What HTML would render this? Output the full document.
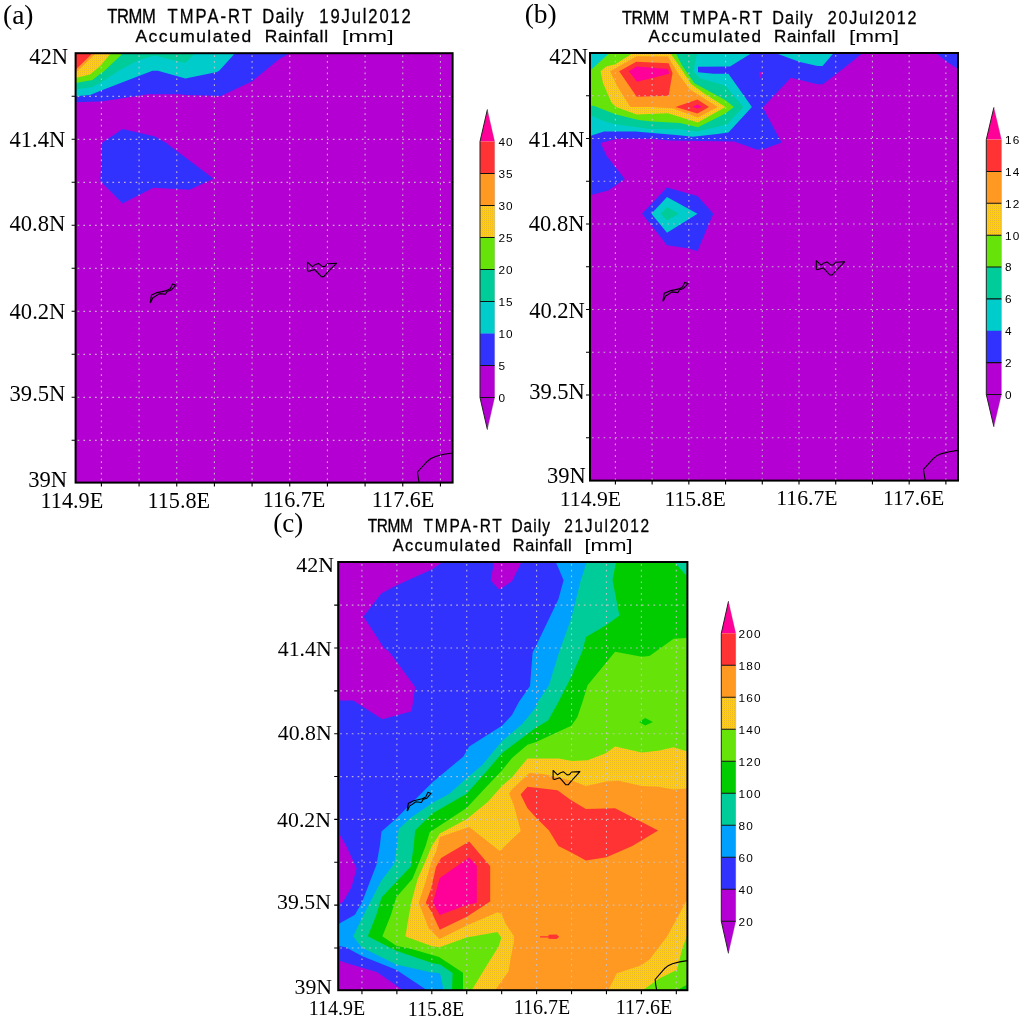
<!DOCTYPE html>
<html lang="en"><head><meta charset="utf-8"><title>TRMM TMPA-RT Daily Accumulated Rainfall</title>
<style>
html,body{margin:0;padding:0;background:#fff;}
body{width:1024px;height:1021px;overflow:hidden;font-family:"Liberation Sans",sans-serif;}
svg{display:block;}
text{fill:#000;}
</style></head><body>
<svg width="1024" height="1021" viewBox="0 0 1024 1021">
<defs><pattern id="dith" width="2" height="2" patternUnits="userSpaceOnUse"><rect width="2" height="2" fill="#FECD0C"/><rect width="1" height="1" fill="#ECB830"/></pattern></defs>
<rect width="1024" height="1021" fill="#fff"/>
<g id="panel-a">
<clipPath id="clip-a"><rect x="75.6" y="53.2" width="377.0" height="429.4"/></clipPath>
<g clip-path="url(#clip-a)">
<rect x="75.6" y="53.2" width="377.0" height="429.4" fill="#B400D2"/>
<polygon points="75.6,53.3 290.3,53.3 279.4,59.0 252.3,81.2 221.0,96.0 185.6,95.0 179.4,94.2 148.4,94.3 101.2,101.4 75.6,102.3" fill="#3232FF"/>
<polygon points="75.6,53.3 235.0,53.3 219.4,70.4 217.0,72.0 185.4,78.6 157.9,70.8 152.5,70.7 101.2,90.6 90.0,95.0 75.6,96.2" fill="#00CCCC"/>
<polygon points="75.6,53.3 195.0,53.3 185.4,63.0 154.5,55.4 138.8,60.0 122.7,68.4 120.0,70.0 101.2,82.3 92.5,86.9 75.6,89.4" fill="#00CC99"/>
<polygon points="75.6,53.3 123.0,53.3 103.2,72.0 101.2,73.0 92.5,80.0 75.6,83.1" fill="#66E40A"/>
<polygon points="75.6,53.3 110.8,53.3 100.0,66.3 90.0,74.4 75.6,78.0" fill="url(#dith)"/>
<polygon points="75.6,53.3 96.0,53.3 75.6,72.7" fill="#FF9922"/>
<polygon points="75.6,53.3 92.5,53.3 75.6,69.7" fill="#FF3333"/>
<polygon points="102.2,142.8 122.5,129.1 155.0,136.6 165.9,142.8 213.6,178.8 189.4,189.7 153.4,187.7 122.5,203.4 100.3,181.1" fill="#3232FF"/>
<path d="M150.2,302.6 L151.5,295.0 L157.1,292.6 L162.0,291.6 L166.4,290.6 L170.3,288.7 L172.5,284.0 L175.9,285.2 L171.2,290.1 L167.3,291.4 L165.4,294.3 L159.5,293.6 L156.6,295.5 L152.7,298.0 L151.0,301.9 Z" fill="none" stroke="#000" stroke-width="1.1" stroke-linejoin="round"/>
<path d="M307.5,262.2 L312.4,266.6 L315.5,264.4 L318.5,263.4 L322.6,266.6 L324.8,266.5 L327.7,263.7 L336.5,263.3 L327.2,272.7 L323.8,276.6 L321.4,276.6 L317.5,272.5 L314.6,269.5 L309.2,271.2 L307.5,270.7 Z" fill="none" stroke="#000" stroke-width="1.1" stroke-linejoin="round"/>
<path d="M419.2,483.0 L418.2,477.0 L417.5,472.0 L427.5,461.2 L431.0,458.5 L436.2,456.2 L444.0,454.3 L452.5,453.0" fill="none" stroke="#000" stroke-width="1.1" stroke-linejoin="round"/>
<path d="M101.40,55.2V482.6M139.07,55.2V482.6M176.74,55.2V482.6M214.41,55.2V482.6M252.08,55.2V482.6M289.75,55.2V482.6M327.42,55.2V482.6M365.09,55.2V482.6M402.76,55.2V482.6M440.43,55.2V482.6M77.6,96.30H452.6M77.6,139.30H452.6M77.6,182.30H452.6M77.6,225.30H452.6M77.6,268.30H452.6M77.6,311.30H452.6M77.6,354.30H452.6M77.6,397.30H452.6M77.6,440.30H452.6" fill="none" stroke="#c9c3c9" stroke-opacity=".88" stroke-width="1.15" stroke-dasharray="1.7 4.1"/>
</g>
<path d="M101.40,482.6v4M139.07,482.6v4M176.74,482.6v4M214.41,482.6v4M252.08,482.6v4M289.75,482.6v4M327.42,482.6v4M365.09,482.6v4M402.76,482.6v4M440.43,482.6v4M75.6,96.30h-4M75.6,139.30h-4M75.6,182.30h-4M75.6,225.30h-4M75.6,268.30h-4M75.6,311.30h-4M75.6,354.30h-4M75.6,397.30h-4M75.6,440.30h-4" stroke="#000" stroke-width="1.1" fill="none"/>
<rect x="75.6" y="53.2" width="377.0" height="429.4" fill="none" stroke="#000" stroke-width="2"/>
<text x="68.2" y="63.9" text-anchor="end" font-size="22.6" font-family="'Liberation Serif', 'DejaVu Serif', serif">42N</text>
<text x="65.3" y="147.2" text-anchor="end" font-size="22.6" font-family="'Liberation Serif', 'DejaVu Serif', serif">41.4N</text>
<text x="65.3" y="230.8" text-anchor="end" font-size="22.6" font-family="'Liberation Serif', 'DejaVu Serif', serif">40.8N</text>
<text x="65.4" y="319.4" text-anchor="end" font-size="22.6" font-family="'Liberation Serif', 'DejaVu Serif', serif">40.2N</text>
<text x="65.4" y="400.7" text-anchor="end" font-size="22.6" font-family="'Liberation Serif', 'DejaVu Serif', serif">39.5N</text>
<text x="67.2" y="487.2" text-anchor="end" font-size="22.6" font-family="'Liberation Serif', 'DejaVu Serif', serif">39N</text>
<text x="71.9" y="508" text-anchor="middle" font-size="22.2" font-family="'Liberation Serif', 'DejaVu Serif', serif">114.9E</text>
<text x="178.8" y="508" text-anchor="middle" font-size="22.2" font-family="'Liberation Serif', 'DejaVu Serif', serif">115.8E</text>
<text x="294.1" y="507.3" text-anchor="middle" font-size="22.2" font-family="'Liberation Serif', 'DejaVu Serif', serif">116.7E</text>
<text x="403.1" y="507.3" text-anchor="middle" font-size="22.2" font-family="'Liberation Serif', 'DejaVu Serif', serif">117.6E</text>
<text x="3" y="24.2" font-size="27.5" font-family="'Liberation Serif', 'DejaVu Serif', serif">(a)</text>
<text transform="scale(0.86,1)" y="23.4" font-size="19.3" stroke="#000" stroke-width=".3" font-family="'Liberation Sans', 'DejaVu Sans', sans-serif"><tspan x="124.8" textLength="56.4" lengthAdjust="spacing">TRMM</tspan> <tspan x="194.8" textLength="98.1" lengthAdjust="spacing">TMPA-RT</tspan> <tspan x="305.0" textLength="48.1" lengthAdjust="spacing">Daily</tspan> <tspan x="371.3" textLength="106.4" lengthAdjust="spacing">19Jul2012</tspan></text>
<text transform="scale(1.0,1)" y="42.0" font-size="17.4" stroke="#000" stroke-width=".3" font-family="'Liberation Sans', 'DejaVu Sans', sans-serif"><tspan x="135.4" textLength="115.7" lengthAdjust="spacing">Accumulated</tspan> <tspan x="264.7" textLength="63.3" lengthAdjust="spacing">Rainfall</tspan> <tspan x="342.0" textLength="51.6" lengthAdjust="spacingAndGlyphs" stroke="none">[mm]</tspan></text>
<polygon points="480,141.5 487.4,109.5 494.7,141.5" fill="#FF0099"/>
<rect x="480" y="141.50" width="14.7" height="32.30" fill="#FF3333"/>
<rect x="480" y="173.50" width="14.7" height="32.30" fill="#FF9922"/>
<rect x="480" y="205.50" width="14.7" height="32.30" fill="url(#dith)"/>
<rect x="480" y="237.50" width="14.7" height="32.30" fill="#66E40A"/>
<rect x="480" y="269.50" width="14.7" height="32.30" fill="#00CC99"/>
<rect x="480" y="301.50" width="14.7" height="32.30" fill="#00CCCC"/>
<rect x="480" y="333.50" width="14.7" height="32.30" fill="#3232FF"/>
<rect x="480" y="365.50" width="14.7" height="32.30" fill="#B400D2"/>
<polygon points="480,397.5 487.4,429.5 494.7,397.5" fill="#B400D2"/>
<path d="M480,173.50H494.7M480,205.50H494.7M480,237.50H494.7M480,269.50H494.7M480,301.50H494.7M480,365.50H494.7M480,397.50H494.7" stroke="#111" stroke-width="1.1" fill="none"/>
<path d="M487.4,109.5L480,141.5V397.5L487.4,429.5" stroke="#222" stroke-width="1" fill="none"/>
<path d="M487.4,109.5L494.7,141.5V397.5L487.4,429.5" stroke="#888" stroke-opacity=".35" stroke-width=".8" fill="none"/>
<text x="498.4" y="145.8" font-size="11.8" letter-spacing="1.1" font-family="'Liberation Sans', 'DejaVu Sans', sans-serif">40</text>
<text x="498.4" y="177.8" font-size="11.8" letter-spacing="1.1" font-family="'Liberation Sans', 'DejaVu Sans', sans-serif">35</text>
<text x="498.4" y="209.8" font-size="11.8" letter-spacing="1.1" font-family="'Liberation Sans', 'DejaVu Sans', sans-serif">30</text>
<text x="498.4" y="241.8" font-size="11.8" letter-spacing="1.1" font-family="'Liberation Sans', 'DejaVu Sans', sans-serif">25</text>
<text x="498.4" y="273.8" font-size="11.8" letter-spacing="1.1" font-family="'Liberation Sans', 'DejaVu Sans', sans-serif">20</text>
<text x="498.4" y="305.8" font-size="11.8" letter-spacing="1.1" font-family="'Liberation Sans', 'DejaVu Sans', sans-serif">15</text>
<text x="498.4" y="337.8" font-size="11.8" letter-spacing="1.1" font-family="'Liberation Sans', 'DejaVu Sans', sans-serif">10</text>
<text x="498.4" y="369.8" font-size="11.8" letter-spacing="1.1" font-family="'Liberation Sans', 'DejaVu Sans', sans-serif">5</text>
<text x="498.4" y="401.8" font-size="11.8" letter-spacing="1.1" font-family="'Liberation Sans', 'DejaVu Sans', sans-serif">0</text>
</g>
<g id="panel-b">
<clipPath id="clip-b"><rect x="590" y="53" width="368.0" height="427.6"/></clipPath>
<g clip-path="url(#clip-b)">
<rect x="590" y="53" width="368.0" height="427.6" fill="#B400D2"/>
<polygon points="590.0,53.0 862.5,53.0 851.6,62.0 836.7,73.8 823.0,84.2 817.5,84.2 790.9,77.7 762.8,107.4 781.6,142.5 762.8,149.6 756.6,149.6 734.0,141.6 669.4,140.6 650.6,138.8 616.2,139.0 600.6,143.0 606.9,156.2 624.8,178.9 608.4,190.6 590.0,195.3" fill="#3232FF"/>
<polygon points="935.9,53.0 946.1,61.3 958.0,69.1 958.0,53.0" fill="#3232FF"/>
<polygon points="758.9,71.8 763.6,72.2 759.7,78.9" fill="#B400D2"/>
<polygon points="590.0,53.0 751.9,53.0 730.0,66.4 698.0,66.8 698.0,72.2 713.6,73.8 728.4,73.8 751.9,107.1 728.4,132.4 717.5,133.9 692.8,136.7 678.8,135.2 635.5,131.4 604.0,131.4 590.0,136.0" fill="#00CCCC"/>
<polygon points="775.3,53.0 800.0,62.0 817.5,66.0 822.5,66.0 833.7,53.0" fill="#00CCCC"/>
<polygon points="590.0,53.0 697.2,53.0 693.3,71.4 700.3,78.5 725.3,85.5 743.3,107.1 726.9,124.6 697.2,131.6 680.0,129.2 650.0,128.9 615.1,124.2 604.8,121.4 590.0,114.9" fill="#00CC99"/>
<polygon points="590.0,53.0 675.6,53.0 681.9,65.2 694.4,83.2 725.6,100.3 733.9,107.1 725.3,113.6 698.0,127.2 680.0,123.0 652.2,121.4 638.6,120.0 615.3,114.3 594.4,106.0 590.0,105.5" fill="#66E40A"/>
<polygon points="590.0,53.0 609.5,53.0 590.0,70.7" fill="#00CCCC"/>
<polygon points="600.6,71.3 606.1,66.6 615.3,64.2 633.0,53.0 670.2,53.0 678.8,65.2 691.2,83.9 703.8,93.3 725.5,107.1 697.7,122.5 667.8,113.3 636.7,114.6 616.0,107.0 611.4,102.6 603.0,83.0" fill="url(#dith)"/>
<polygon points="610.2,71.3 636.7,56.3 667.8,56.6 678.8,74.6 689.6,89.2 717.7,107.1 697.7,117.5 672.5,108.2 650.0,106.9 630.3,106.9 617.0,85.7" fill="#FF9922"/>
<polygon points="619.2,71.3 636.3,61.7 668.6,63.2 672.5,73.0 668.6,95.7 636.7,96.7" fill="#FF3333"/>
<polygon points="675.6,106.9 697.4,99.4 709.0,107.1 697.4,113.4" fill="#FF3333"/>
<polygon points="628.8,71.3 636.7,66.5 667.8,69.1 669.4,73.8 637.0,81.8" fill="#FF0099"/>
<polygon points="692.6,106.8 697.5,104.6 701.6,106.8 697.5,108.8" fill="#FF0099"/>
<polygon points="642.0,213.8 667.0,187.5 697.5,196.1 713.4,213.8 708.4,225.0 697.5,251.2 688.9,248.4 667.0,245.3 652.2,226.6" fill="#3232FF"/>
<polygon points="651.4,213.8 667.0,196.9 697.5,213.8 667.0,232.8" fill="#00CCCC"/>
<polygon points="660.8,213.8 667.0,207.0 678.8,213.8 667.0,220.6" fill="#00CC99"/>
<path d="M663.0,300.9 L664.2,293.3 L669.7,290.9 L674.5,289.9 L678.8,288.9 L682.6,287.0 L684.7,282.4 L688.0,283.6 L683.5,288.4 L679.6,289.7 L677.8,292.6 L672.0,291.9 L669.2,293.8 L665.4,296.3 L663.7,300.2 Z" fill="none" stroke="#000" stroke-width="1.1" stroke-linejoin="round"/>
<path d="M816.3,260.7 L821.1,265.1 L824.1,262.9 L827.0,261.9 L831.0,265.1 L833.2,265.0 L836.0,262.2 L844.6,261.8 L835.6,271.1 L832.2,275.0 L829.9,275.0 L826.1,270.9 L823.2,267.9 L818.0,269.6 L816.3,269.2 Z" fill="none" stroke="#000" stroke-width="1.1" stroke-linejoin="round"/>
<path d="M925.2,480.2 L924.2,474.2 L923.5,469.3 L933.3,458.6 L936.7,455.8 L941.8,453.6 L949.4,451.7 L957.6,450.4" fill="none" stroke="#000" stroke-width="1.1" stroke-linejoin="round"/>
<path d="M615.40,55.0V480.6M652.12,55.0V480.6M688.84,55.0V480.6M725.56,55.0V480.6M762.28,55.0V480.6M799.00,55.0V480.6M835.72,55.0V480.6M872.44,55.0V480.6M909.16,55.0V480.6M945.88,55.0V480.6M592.0,95.75H958.0M592.0,138.50H958.0M592.0,181.25H958.0M592.0,224.00H958.0M592.0,266.75H958.0M592.0,309.50H958.0M592.0,352.25H958.0M592.0,395.00H958.0M592.0,437.75H958.0" fill="none" stroke="#c9c3c9" stroke-opacity=".88" stroke-width="1.15" stroke-dasharray="1.7 4.1"/>
</g>
<path d="M615.40,480.6v4M652.12,480.6v4M688.84,480.6v4M725.56,480.6v4M762.28,480.6v4M799.00,480.6v4M835.72,480.6v4M872.44,480.6v4M909.16,480.6v4M945.88,480.6v4M590.0,95.75h-4M590.0,138.50h-4M590.0,181.25h-4M590.0,224.00h-4M590.0,266.75h-4M590.0,309.50h-4M590.0,352.25h-4M590.0,395.00h-4M590.0,437.75h-4" stroke="#000" stroke-width="1.1" fill="none"/>
<rect x="590" y="53" width="368.0" height="427.6" fill="none" stroke="#000" stroke-width="2"/>
<text x="588.0" y="63.7" text-anchor="end" font-size="22.5" font-family="'Liberation Serif', 'DejaVu Serif', serif">42N</text>
<text x="584.4" y="146.9" text-anchor="end" font-size="22.5" font-family="'Liberation Serif', 'DejaVu Serif', serif">41.4N</text>
<text x="584.4" y="230.6" text-anchor="end" font-size="22.5" font-family="'Liberation Serif', 'DejaVu Serif', serif">40.8N</text>
<text x="584.8" y="317.6" text-anchor="end" font-size="22.5" font-family="'Liberation Serif', 'DejaVu Serif', serif">40.2N</text>
<text x="584.8" y="399.1" text-anchor="end" font-size="22.5" font-family="'Liberation Serif', 'DejaVu Serif', serif">39.5N</text>
<text x="585.7" y="483.2" text-anchor="end" font-size="22.5" font-family="'Liberation Serif', 'DejaVu Serif', serif">39N</text>
<text x="590.4" y="505.5" text-anchor="middle" font-size="21.7" font-family="'Liberation Serif', 'DejaVu Serif', serif">114.9E</text>
<text x="695.1" y="505.5" text-anchor="middle" font-size="21.7" font-family="'Liberation Serif', 'DejaVu Serif', serif">115.8E</text>
<text x="806.9" y="505" text-anchor="middle" font-size="21.7" font-family="'Liberation Serif', 'DejaVu Serif', serif">116.7E</text>
<text x="913.6" y="505" text-anchor="middle" font-size="21.7" font-family="'Liberation Serif', 'DejaVu Serif', serif">117.6E</text>
<text x="524.7" y="22.5" font-size="27.5" font-family="'Liberation Serif', 'DejaVu Serif', serif">(b)</text>
<text transform="scale(0.86,1)" y="23.9" font-size="18.8" stroke="#000" stroke-width=".3" font-family="'Liberation Sans', 'DejaVu Sans', sans-serif"><tspan x="723.4" textLength="54.7" lengthAdjust="spacing">TRMM</tspan> <tspan x="791.2" textLength="95.2" lengthAdjust="spacing">TMPA-RT</tspan> <tspan x="898.1" textLength="46.7" lengthAdjust="spacing">Daily</tspan> <tspan x="962.4" textLength="103.2" lengthAdjust="spacing">20Jul2012</tspan></text>
<text transform="scale(1.0,1)" y="42.3" font-size="17.0" stroke="#000" stroke-width=".3" font-family="'Liberation Sans', 'DejaVu Sans', sans-serif"><tspan x="648.6" textLength="112.3" lengthAdjust="spacing">Accumulated</tspan> <tspan x="774.0" textLength="61.4" lengthAdjust="spacing">Rainfall</tspan> <tspan x="849.0" textLength="50.1" lengthAdjust="spacingAndGlyphs" stroke="none">[mm]</tspan></text>
<polygon points="986.3,139.6 993.9,107.4 1001.5,139.6" fill="#FF0099"/>
<rect x="986.3" y="139.60" width="15.2" height="32.16" fill="#FF3333"/>
<rect x="986.3" y="171.46" width="15.2" height="32.16" fill="#FF9922"/>
<rect x="986.3" y="203.32" width="15.2" height="32.16" fill="url(#dith)"/>
<rect x="986.3" y="235.18" width="15.2" height="32.16" fill="#66E40A"/>
<rect x="986.3" y="267.04" width="15.2" height="32.16" fill="#00CC99"/>
<rect x="986.3" y="298.90" width="15.2" height="32.16" fill="#00CCCC"/>
<rect x="986.3" y="330.76" width="15.2" height="32.16" fill="#3232FF"/>
<rect x="986.3" y="362.62" width="15.2" height="32.16" fill="#B400D2"/>
<polygon points="986.3,394.5 993.9,426.7 1001.5,394.5" fill="#B400D2"/>
<path d="M986.3,171.46H1001.5M986.3,203.32H1001.5M986.3,235.18H1001.5M986.3,267.04H1001.5M986.3,298.90H1001.5M986.3,362.62H1001.5M986.3,394.48H1001.5" stroke="#111" stroke-width="1.1" fill="none"/>
<path d="M993.9,107.4L986.3,139.6V394.5L993.9,426.7" stroke="#222" stroke-width="1" fill="none"/>
<path d="M993.9,107.4L1001.5,139.6V394.5L993.9,426.7" stroke="#888" stroke-opacity=".35" stroke-width=".8" fill="none"/>
<text x="1005.0" y="143.9" font-size="11.8" letter-spacing="1.1" font-family="'Liberation Sans', 'DejaVu Sans', sans-serif">16</text>
<text x="1005.0" y="175.8" font-size="11.8" letter-spacing="1.1" font-family="'Liberation Sans', 'DejaVu Sans', sans-serif">14</text>
<text x="1005.0" y="207.6" font-size="11.8" letter-spacing="1.1" font-family="'Liberation Sans', 'DejaVu Sans', sans-serif">12</text>
<text x="1005.0" y="239.5" font-size="11.8" letter-spacing="1.1" font-family="'Liberation Sans', 'DejaVu Sans', sans-serif">10</text>
<text x="1005.0" y="271.3" font-size="11.8" letter-spacing="1.1" font-family="'Liberation Sans', 'DejaVu Sans', sans-serif">8</text>
<text x="1005.0" y="303.2" font-size="11.8" letter-spacing="1.1" font-family="'Liberation Sans', 'DejaVu Sans', sans-serif">6</text>
<text x="1005.0" y="335.1" font-size="11.8" letter-spacing="1.1" font-family="'Liberation Sans', 'DejaVu Sans', sans-serif">4</text>
<text x="1005.0" y="366.9" font-size="11.8" letter-spacing="1.1" font-family="'Liberation Sans', 'DejaVu Sans', sans-serif">2</text>
<text x="1005.0" y="398.8" font-size="11.8" letter-spacing="1.1" font-family="'Liberation Sans', 'DejaVu Sans', sans-serif">0</text>
</g>
<g id="panel-c">
<clipPath id="clip-c"><rect x="338.2" y="562.0" width="349.2" height="428.2"/></clipPath>
<g clip-path="url(#clip-c)">
<rect x="338.2" y="562.0" width="349.2" height="428.2" fill="#3232FF"/>
<polygon points="338.2,562.0 442.6,562.0 432.2,569.2 396.2,585.5 381.5,593.2 363.5,616.4 384.1,648.2 389.3,651.7 415.1,686.9 413.3,700.0 411.6,711.2 396.2,715.5 382.4,719.2 353.2,700.5 338.2,700.5" fill="#B400D2"/>
<polygon points="494.1,562.0 490.7,580.3 499.3,589.8 512.0,581.2 521.5,562.0" fill="#B400D2"/>
<polygon points="338.2,832.0 346.3,846.0 356.6,868.3 351.5,887.2 342.9,901.9 338.2,904.5" fill="#B400D2"/>
<polygon points="338.2,960.3 346.3,962.9 377.2,972.3 403.0,990.2 338.2,990.2" fill="#B400D2"/>
<polygon points="555.8,562.0 563.6,580.3 558.4,599.2 536.9,643.9 532.6,652.5 530.0,686.0 518.9,702.0 512.0,715.0 501.9,725.8 469.2,746.4 463.2,756.7 432.2,782.5 396.2,818.6 381.5,831.5 379.8,846.0 376.4,864.9 361.8,902.7 354.9,914.8 338.2,924.2 338.2,945.7 346.3,947.4 361.8,956.0 396.2,969.8 427.1,990.2 687.4,990.2 687.4,562.0" fill="#00A0FF"/>
<polygon points="586.8,562.0 580.8,580.3 571.3,618.2 558.4,654.2 549.0,685.2 537.8,702.0 536.1,706.9 522.3,724.0 512.0,732.7 501.9,741.2 482.1,765.3 465.8,779.1 449.4,793.7 432.2,803.1 409.9,818.6 398.7,828.9 397.0,846.0 394.4,863.2 381.5,880.4 361.8,918.2 353.2,936.2 361.8,947.4 396.2,964.6 430.5,972.3 440.0,973.2 443.7,990.2 687.4,990.2 687.4,562.0" fill="#00CC99"/>
<polygon points="616.0,562.0 612.5,580.3 619.4,615.6 606.5,625.0 585.9,637.0 582.5,650.8 572.2,674.9 558.4,702.0 548.1,720.6 536.1,727.5 512.0,745.5 501.9,753.3 487.2,770.5 466.6,793.7 432.2,813.4 415.1,830.6 413.7,846.0 410.8,866.6 396.2,882.1 381.5,897.6 376.4,914.8 367.8,936.2 396.2,950.8 432.2,962.9 440.0,964.6 452.6,973.0 452.0,990.2 687.4,990.2 687.4,562.0" fill="#00CC00"/>
<polygon points="674.4,562.0 687.4,577.0 687.4,562.0" fill="#00CC99"/>
<polygon points="687.4,637.9 673.6,638.8 649.5,656.0 641.8,656.8 615.1,651.7 587.6,685.2 582.5,702.0 577.3,717.2 571.3,725.8 536.1,742.1 527.5,744.7 512.0,758.0 501.9,770.5 485.5,787.7 466.6,808.0 442.6,823.8 429.7,832.3 425.6,846.0 420.2,859.8 412.5,878.7 396.2,897.6 391.0,914.8 382.4,936.2 396.2,945.7 411.6,949.1 439.1,956.9 463.0,972.7 463.0,990.2 687.4,990.2" fill="#66E40A"/>
<polygon points="639.2,722.0 645.2,718.0 652.9,722.0 645.2,725.4" fill="#00CC00"/>
<polygon points="687.4,984.4 677.0,990.2 687.4,990.2" fill="#00CC00"/>
<polygon points="687.4,751.6 673.6,747.3 658.1,750.7 641.8,752.4 615.1,746.4 605.7,753.3 587.6,760.2 572.2,761.0 558.4,758.4 527.5,758.4 512.0,777.3 501.9,786.0 488.0,801.7 466.9,818.9 439.9,833.6 431.7,846.2 425.9,860.3 417.6,879.3 411.7,901.0 409.0,914.8 405.4,936.4 432.2,946.3 439.5,947.3 466.6,937.5 497.4,932.0 501.3,937.8 498.6,946.6 486.9,965.3 471.7,990.2 642.6,990.2 659.8,978.3 677.0,969.8 682.2,949.1 687.4,934.5" fill="url(#dith)"/>
<polygon points="687.4,788.5 673.6,789.4 658.1,786.8 641.8,785.9 618.6,780.8 606.5,781.6 585.9,785.9 572.2,780.8 542.9,773.9 529.2,773.0 512.0,789.5 509.1,793.5 513.8,805.2 520.8,831.0 499.7,850.9 469.2,826.9 439.9,836.9 436.4,850.9 431.7,861.0 426.4,879.3 418.8,902.7 428.8,928.5 431.6,930.9 439.6,939.0 466.7,925.5 497.5,912.3 501.7,914.0 505.6,923.7 513.8,936.0 513.8,941.9 510.3,960.6 508.6,971.2 495.1,990.2 608.2,990.2 616.8,973.2 640.9,965.5 649.5,959.4 666.7,937.1 677.0,918.2 687.4,899.3" fill="#FF9922"/>
<polygon points="469.2,841.6 441.1,858.0 436.0,867.0 431.0,889.0 425.8,902.7 431.6,912.1 439.8,929.7 466.8,916.8 490.2,901.6 490.2,866.3" fill="#FF3333"/>
<polygon points="469.1,857.6 476.8,865.8 476.8,902.7 466.8,905.1 439.8,915.0 432.8,902.7 439.8,878.1" fill="#FF0099"/>
<polygon points="520.6,794.5 527.5,786.8 557.5,790.2 570.4,799.7 585.9,809.1 615.1,808.3 658.1,830.6 632.3,846.0 606.5,857.2 585.9,860.6 572.2,852.9 558.4,846.0 549.0,830.6 536.9,818.6 527.5,808.3" fill="#FF3333"/>
<polygon points="540.0,936.2 548.5,936.2 548.5,934.8 556.5,934.6 559.2,936.8 556.5,939.0 548.5,938.8 548.5,937.4 540.0,937.4" fill="#FF3333"/>
<path d="M407.2,810.7 L408.4,803.2 L413.6,800.8 L418.1,799.8 L422.2,798.8 L425.8,796.9 L427.9,792.2 L431.0,793.4 L426.7,798.3 L423.1,799.6 L421.3,802.5 L415.8,801.8 L413.1,803.7 L409.5,806.1 L407.9,810.0 Z" fill="none" stroke="#000" stroke-width="1.1" stroke-linejoin="round"/>
<path d="M553.1,770.5 L557.6,774.9 L560.5,772.7 L563.3,771.7 L567.1,774.9 L569.1,774.8 L571.8,772.0 L579.9,771.6 L571.4,780.9 L568.2,784.8 L565.9,784.8 L562.3,780.7 L559.6,777.7 L554.6,779.4 L553.1,779.0 Z" fill="none" stroke="#000" stroke-width="1.1" stroke-linejoin="round"/>
<path d="M656.7,990.5 L655.7,984.5 L655.1,979.5 L664.3,968.8 L667.6,966.1 L672.4,963.8 L679.6,961.9 L687.5,960.6" fill="none" stroke="#000" stroke-width="1.1" stroke-linejoin="round"/>
<path d="M361.95,564.0V990.2M396.88,564.0V990.2M431.81,564.0V990.2M466.74,564.0V990.2M501.67,564.0V990.2M536.60,564.0V990.2M571.53,564.0V990.2M606.46,564.0V990.2M641.39,564.0V990.2M676.32,564.0V990.2M340.2,605.15H687.4M340.2,648.00H687.4M340.2,690.85H687.4M340.2,733.70H687.4M340.2,776.55H687.4M340.2,819.40H687.4M340.2,862.25H687.4M340.2,905.10H687.4M340.2,947.95H687.4" fill="none" stroke="#c9c3c9" stroke-opacity=".88" stroke-width="1.15" stroke-dasharray="1.7 4.1"/>
</g>
<path d="M361.95,990.2v4M396.88,990.2v4M431.81,990.2v4M466.74,990.2v4M501.67,990.2v4M536.60,990.2v4M571.53,990.2v4M606.46,990.2v4M641.39,990.2v4M676.32,990.2v4M338.2,605.15h-4M338.2,648.00h-4M338.2,690.85h-4M338.2,733.70h-4M338.2,776.55h-4M338.2,819.40h-4M338.2,862.25h-4M338.2,905.10h-4M338.2,947.95h-4" stroke="#000" stroke-width="1.1" fill="none"/>
<rect x="338.2" y="562.0" width="349.2" height="428.2" fill="none" stroke="#000" stroke-width="2"/>
<text x="333.9" y="572.25" text-anchor="end" font-size="21.8" font-family="'Liberation Serif', 'DejaVu Serif', serif">42N</text>
<text x="331.7" y="656" text-anchor="end" font-size="21.8" font-family="'Liberation Serif', 'DejaVu Serif', serif">41.4N</text>
<text x="331.7" y="740.2" text-anchor="end" font-size="21.8" font-family="'Liberation Serif', 'DejaVu Serif', serif">40.8N</text>
<text x="331.0" y="826.7" text-anchor="end" font-size="21.8" font-family="'Liberation Serif', 'DejaVu Serif', serif">40.2N</text>
<text x="331.0" y="908.7" text-anchor="end" font-size="21.8" font-family="'Liberation Serif', 'DejaVu Serif', serif">39.5N</text>
<text x="332.1" y="993.6" text-anchor="end" font-size="21.8" font-family="'Liberation Serif', 'DejaVu Serif', serif">39N</text>
<text x="337.1" y="1015.4" text-anchor="middle" font-size="20.0" font-family="'Liberation Serif', 'DejaVu Serif', serif">114.9E</text>
<text x="436.0" y="1015.5" text-anchor="middle" font-size="20.0" font-family="'Liberation Serif', 'DejaVu Serif', serif">115.8E</text>
<text x="542.0" y="1014.2" text-anchor="middle" font-size="20.0" font-family="'Liberation Serif', 'DejaVu Serif', serif">116.7E</text>
<text x="643.9" y="1014.2" text-anchor="middle" font-size="20.0" font-family="'Liberation Serif', 'DejaVu Serif', serif">117.6E</text>
<text x="273.3" y="532" font-size="27" font-family="'Liberation Serif', 'DejaVu Serif', serif">(c)</text>
<text transform="scale(0.86,1)" y="532.2" font-size="18.0" stroke="#000" stroke-width=".3" font-family="'Liberation Sans', 'DejaVu Sans', sans-serif"><tspan x="427.7" textLength="52.3" lengthAdjust="spacing">TRMM</tspan> <tspan x="492.5" textLength="91.0" lengthAdjust="spacing">TMPA-RT</tspan> <tspan x="594.7" textLength="44.7" lengthAdjust="spacing">Daily</tspan> <tspan x="656.1" textLength="98.7" lengthAdjust="spacing">21Jul2012</tspan></text>
<text transform="scale(1.0,1)" y="550.6" font-size="16.3" stroke="#000" stroke-width=".3" font-family="'Liberation Sans', 'DejaVu Sans', sans-serif"><tspan x="392.7" textLength="107.5" lengthAdjust="spacing">Accumulated</tspan> <tspan x="512.8" textLength="58.8" lengthAdjust="spacing">Rainfall</tspan> <tspan x="584.5" textLength="48.0" lengthAdjust="spacingAndGlyphs" stroke="none">[mm]</tspan></text>
<polygon points="721.3,633.3 728.5,601.3 735.8,633.3" fill="#FF0099"/>
<rect x="721.3" y="633.30" width="14.5" height="32.30" fill="#FF3333"/>
<rect x="721.3" y="665.30" width="14.5" height="32.30" fill="#FF9922"/>
<rect x="721.3" y="697.30" width="14.5" height="32.30" fill="url(#dith)"/>
<rect x="721.3" y="729.30" width="14.5" height="32.30" fill="#66E40A"/>
<rect x="721.3" y="761.30" width="14.5" height="32.30" fill="#00CC00"/>
<rect x="721.3" y="793.30" width="14.5" height="32.30" fill="#00CC99"/>
<rect x="721.3" y="825.30" width="14.5" height="32.30" fill="#00A0FF"/>
<rect x="721.3" y="857.30" width="14.5" height="32.30" fill="#3232FF"/>
<rect x="721.3" y="889.30" width="14.5" height="32.30" fill="#B400D2"/>
<polygon points="721.3,921.3 728.5,953.3 735.8,921.3" fill="#B400D2"/>
<path d="M721.3,665.30H735.8M721.3,697.30H735.8M721.3,729.30H735.8M721.3,761.30H735.8M721.3,793.30H735.8M721.3,825.30H735.8M721.3,857.30H735.8M721.3,889.30H735.8M721.3,921.30H735.8" stroke="#111" stroke-width="1.1" fill="none"/>
<path d="M728.5,601.3L721.3,633.3V921.3L728.5,953.3" stroke="#222" stroke-width="1" fill="none"/>
<path d="M728.5,601.3L735.8,633.3V921.3L728.5,953.3" stroke="#888" stroke-opacity=".35" stroke-width=".8" fill="none"/>
<text x="738.6" y="637.6" font-size="11.8" letter-spacing="1.1" font-family="'Liberation Sans', 'DejaVu Sans', sans-serif">200</text>
<text x="738.6" y="669.6" font-size="11.8" letter-spacing="1.1" font-family="'Liberation Sans', 'DejaVu Sans', sans-serif">180</text>
<text x="738.6" y="701.6" font-size="11.8" letter-spacing="1.1" font-family="'Liberation Sans', 'DejaVu Sans', sans-serif">160</text>
<text x="738.6" y="733.6" font-size="11.8" letter-spacing="1.1" font-family="'Liberation Sans', 'DejaVu Sans', sans-serif">140</text>
<text x="738.6" y="765.6" font-size="11.8" letter-spacing="1.1" font-family="'Liberation Sans', 'DejaVu Sans', sans-serif">120</text>
<text x="738.6" y="797.6" font-size="11.8" letter-spacing="1.1" font-family="'Liberation Sans', 'DejaVu Sans', sans-serif">100</text>
<text x="738.6" y="829.6" font-size="11.8" letter-spacing="1.1" font-family="'Liberation Sans', 'DejaVu Sans', sans-serif">80</text>
<text x="738.6" y="861.6" font-size="11.8" letter-spacing="1.1" font-family="'Liberation Sans', 'DejaVu Sans', sans-serif">60</text>
<text x="738.6" y="893.6" font-size="11.8" letter-spacing="1.1" font-family="'Liberation Sans', 'DejaVu Sans', sans-serif">40</text>
<text x="738.6" y="925.6" font-size="11.8" letter-spacing="1.1" font-family="'Liberation Sans', 'DejaVu Sans', sans-serif">20</text>
</g>
</svg>
</body></html>
